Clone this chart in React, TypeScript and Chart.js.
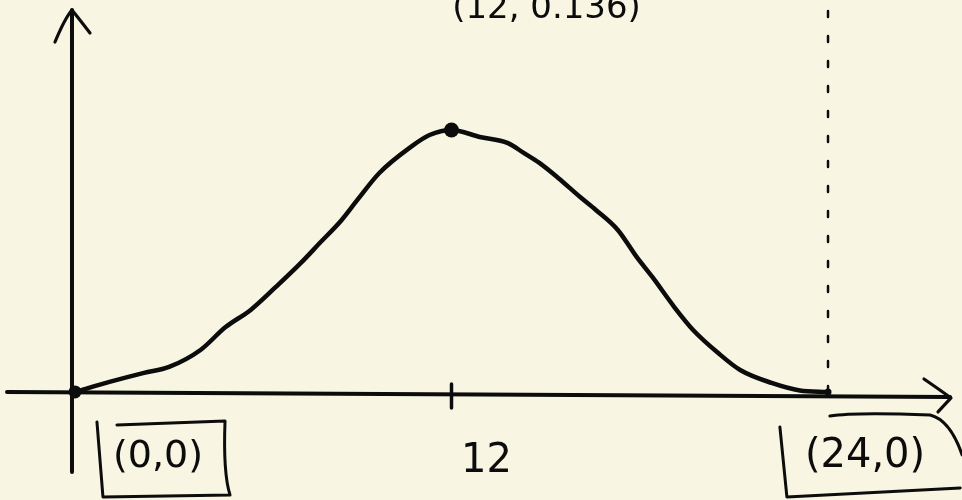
import React, { useEffect, useRef } from "react";
import { Chart, registerables } from "chart.js";

Chart.register(...registerables);

// Sketched bell-shaped curve over hours 0..24, peaking at (12, 0.136)
const curveX = [0, 1.1, 2.2, 3.0, 4.0, 4.8, 5.6, 6.4, 7.2, 7.8, 8.5, 9.0, 9.7, 10.7, 11.3, 12,
  12.9, 13.8, 14.3, 14.8, 15.4, 16.1, 16.6, 17.3, 17.9, 18.4, 19.1, 19.7, 20.5, 21.2, 22.2, 23.1, 24];
const curveY = [0, 0.0052, 0.0099, 0.013, 0.0218, 0.0337, 0.0426, 0.0545, 0.067, 0.0773, 0.0893, 0.0997, 0.1137, 0.1272, 0.1334, 0.136,
  0.1324, 0.1292, 0.1241, 0.1189, 0.1111, 0.1012, 0.0945, 0.0841, 0.0701, 0.0597, 0.0441, 0.0322, 0.0202, 0.0114, 0.0047, 0.0008, 0];

// Marked points and their labels
const markX = [0, 12, 24];
const markY = [0, 0.136, 0];
const markLabels = ["(0,0)", "(12, 0.136)", "(24,0)"];

// Tick on the horizontal axis
const tickValues = [12];
const tickLabels = ["12"];

// Vertical reference line
const refLineX = 24;

const INK = "#0c0c0c";
const PAPER = "#f8f6e2";
const FONT_FAMILY = '"DejaVu Sans", sans-serif';

// Label placement relative to its anchor point (pixels), and whether it is boxed
const markLabelStyle = [
  { dx: 83, dy: 75, size: 38, box: "left" },
  { dx: 95, dy: -112, size: 34, box: "none" },
  { dx: 37, dy: 75, size: 40, box: "right" },
];
const tickLabelStyle = { dx: 35, dy: 80, size: 40 };

const sketchPlugin = {
  id: "sketch",
  beforeDatasetsDraw(chart: any) {
    const { ctx, chartArea: a } = chart;
    const xs = chart.scales.x;
    const ys = chart.scales.y;
    const x0 = xs.getPixelForValue(0);
    const y0 = ys.getPixelForValue(0);
    ctx.save();
    ctx.strokeStyle = INK;
    ctx.lineCap = "round";
    ctx.lineJoin = "round";
    ctx.lineWidth = 4;

    // vertical axis with arrow
    ctx.beginPath();
    ctx.moveTo(x0 - 3, a.bottom - 28);
    ctx.lineTo(x0 - 3, a.top + 10);
    ctx.stroke();
    ctx.lineWidth = 3.2;
    ctx.beginPath();
    ctx.moveTo(x0 - 20, a.top + 42);
    ctx.quadraticCurveTo(x0 - 10, a.top + 18, x0 - 3, a.top + 10);
    ctx.quadraticCurveTo(x0 + 5, a.top + 20, x0 + 15, a.top + 33);
    ctx.stroke();

    // horizontal axis with arrow
    ctx.lineWidth = 4;
    ctx.beginPath();
    ctx.moveTo(a.left + 7, y0);
    ctx.lineTo(a.right - 12, y0 + 5);
    ctx.stroke();
    ctx.lineWidth = 3.2;
    ctx.beginPath();
    ctx.moveTo(a.right - 38, y0 - 13);
    ctx.quadraticCurveTo(a.right - 22, y0 - 2, a.right - 11, y0 + 6);
    ctx.lineTo(a.right - 24, y0 + 20);
    ctx.stroke();

    // ticks
    tickValues.forEach((v) => {
      const px = xs.getPixelForValue(v);
      ctx.lineWidth = 3.5;
      ctx.beginPath();
      ctx.moveTo(px, y0 - 8);
      ctx.lineTo(px, y0 + 16);
      ctx.stroke();
    });
    ctx.restore();
  },
  afterDatasetsDraw(chart: any) {
    const { ctx } = chart;
    const xs = chart.scales.x;
    const ys = chart.scales.y;
    ctx.save();
    ctx.fillStyle = INK;
    ctx.strokeStyle = INK;
    ctx.textAlign = "center";
    ctx.textBaseline = "alphabetic";
    ctx.lineCap = "round";
    ctx.lineJoin = "round";

    markLabels.forEach((txt, i) => {
      const st = markLabelStyle[i];
      const cx = xs.getPixelForValue(markX[i]) + st.dx;
      const by = ys.getPixelForValue(markY[i]) + st.dy;
      ctx.font = `${st.size}px ${FONT_FAMILY}`;
      ctx.fillText(txt, cx, by);
      const w = ctx.measureText(txt).width / 2;
      const top = by - 42;
      const bot = by + 30;
      ctx.lineWidth = 3;
      if (st.box === "left") {
        ctx.beginPath();
        ctx.moveTo(cx - w - 16, top - 3);
        ctx.lineTo(cx - w - 10, bot);
        ctx.lineTo(cx + w + 27, bot - 2);
        ctx.quadraticCurveTo(cx + w + 20, bot - 24, cx + w + 22, top - 4);
        ctx.lineTo(cx - w + 4, top);
        ctx.stroke();
      } else if (st.box === "right") {
        ctx.beginPath();
        ctx.moveTo(cx - w - 25, top + 2);
        ctx.lineTo(cx - w - 18, bot);
        ctx.lineTo(cx + w + 35, bot - 9);
        ctx.stroke();
        ctx.beginPath();
        ctx.moveTo(cx - w + 25, top - 9);
        ctx.quadraticCurveTo(cx - w + 50, top - 13, cx + w + 5, top - 10);
        ctx.quadraticCurveTo(cx + w + 25, top - 5, cx + w + 37, top + 30);
        ctx.stroke();
      }
    });

    tickValues.forEach((v, i) => {
      const cx = xs.getPixelForValue(v) + tickLabelStyle.dx;
      const by = ys.getPixelForValue(0) + tickLabelStyle.dy;
      ctx.font = `${tickLabelStyle.size}px ${FONT_FAMILY}`;
      ctx.fillText(tickLabels[i], cx, by);
    });
    ctx.restore();
  },
};

export default function App() {
  const canvasRef = useRef<HTMLCanvasElement | null>(null);

  useEffect(() => {
    const canvas = canvasRef.current;
    if (!canvas) return;

    // x: 0 -> 75px, 24 -> 828px ; y: 0 -> 392px, 0.136 -> 130px
    const X_MIN = -2.39;
    const X_MAX = 28.27;
    const Y_MIN = -0.0561;
    const Y_MAX = 0.2035;

    const chart = new Chart(canvas, {
      type: "scatter",
      data: {
        datasets: [
          {
            label: "curve",
            data: curveX.map((x, i) => ({ x, y: curveY[i] })),
            showLine: true,
            borderColor: INK,
            borderWidth: 4.5,
            pointRadius: 0,
            cubicInterpolationMode: "monotone",
            fill: false,
          },
          {
            label: "ref",
            data: [
              { x: refLineX, y: 0 },
              { x: refLineX, y: Y_MAX },
            ],
            showLine: true,
            borderColor: INK,
            borderWidth: 2.5,
            borderDash: [6, 19],
            borderCapStyle: "round",
            pointRadius: 0,
          },
          {
            label: "marks",
            data: markX.map((x, i) => ({ x, y: markY[i] })),
            showLine: false,
            backgroundColor: INK,
            borderColor: INK,
            pointRadius: [6.5, 7.5, 3.5],
            borderWidth: 0,
          },
        ],
      },
      options: {
        animation: false,
        responsive: false,
        devicePixelRatio: 1,
        layout: { padding: 0, autoPadding: false },
        plugins: {
          legend: { display: false },
          tooltip: { enabled: false },
        },
        scales: {
          x: { type: "linear", min: X_MIN, max: X_MAX, display: false },
          y: { type: "linear", min: Y_MIN, max: Y_MAX, display: false },
        },
      },
      plugins: [sketchPlugin],
    } as any);

    return () => chart.destroy();
  }, []);

  return (
    <div style={{ position: "fixed", left: 0, top: 0, width: 962, height: 500, background: PAPER }}>
      <canvas ref={canvasRef} width={962} height={500} style={{ display: "block", width: 962, height: 500 }} />
    </div>
  );
}
